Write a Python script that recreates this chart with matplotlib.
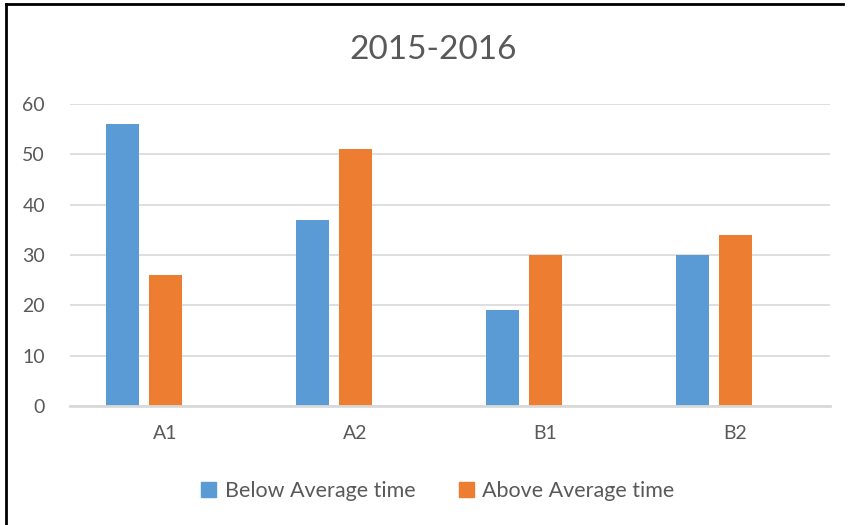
import numpy as np
import matplotlib.pyplot as plt
from matplotlib.patches import Rectangle
from matplotlib.lines import Line2D

# Data
kategori = ['A1', 'A2', 'B1', 'B2']
di_bawah_rata2 = [56, 37, 19, 30]
di_atas_rata2 = [26, 51, 30, 34]
label_seri = ['Below Average time', 'Above Average time']
judul = '2015-2016'
tick_y = [0, 10, 20, 30, 40, 50, 60]

warna_biru = '#5b9bd5'
warna_oranye = '#ed7d31'
warna_teks = '#595959'

plt.rcParams['font.family'] = ['Lato', 'DejaVu Sans']

W, H = 851, 525
fig = plt.figure(figsize=(W / 100, H / 100), dpi=100)

# Area plot (dalam piksel)
kiri, kanan = 70, 830
atas, bawah = 104, 406
ax = fig.add_axes([kiri / W, 1 - bawah / H, (kanan - kiri) / W, (bawah - atas) / H])

x = np.arange(len(kategori))
lebar = 33 / 190
langkah = 42.5 / 190
ax.bar(x - langkah, di_bawah_rata2, width=lebar, color=warna_biru, zorder=3)
ax.bar(x, di_atas_rata2, width=lebar, color=warna_oranye, zorder=3)

ax.set_xlim(-0.5, len(kategori) - 0.5)
ax.set_ylim(0, 60)
ax.set_yticks(tick_y)
ax.set_xticks(x)
ax.set_xticklabels(kategori)
ax.grid(axis='y', color='#d9d9d9', linewidth=1.2, zorder=0)
ax.tick_params(axis='both', length=0, labelsize=14, colors=warna_teks)
ax.tick_params(axis='y', pad=18)
ax.tick_params(axis='x', pad=14)
for s in ['top', 'right', 'left']:
    ax.spines[s].set_visible(False)
ax.spines['bottom'].set_color('#d9d9d9')
ax.spines['bottom'].set_linewidth(2)
ax.spines['bottom'].set_zorder(4)

# Judul
fig.text(433 / W, 1 - 50 / H, judul, ha='center', va='center', fontsize=24, color=warna_teks)

# Legenda
handles = [Rectangle((0, 0), 1, 1, color=warna_biru), Rectangle((0, 0), 1, 1, color=warna_oranye)]
fig.legend(handles, label_seri, loc='center', bbox_to_anchor=(438 / W, 1 - 491 / H), ncol=2,
           frameon=False, fontsize=15.5, labelcolor=warna_teks, handlelength=0.7, handleheight=0.7,
           handletextpad=0.4, columnspacing=2.0)

# Bingkai hitam (kiri dan atas)
fig.add_artist(Line2D([6 / W, 6 / W], [0, 1 - 4 / H], transform=fig.transFigure, color='black', linewidth=2))
fig.add_artist(Line2D([6 / W, 843 / W], [1 - 4 / H, 1 - 4 / H], transform=fig.transFigure, color='black', linewidth=2))

fig.savefig('out.png', dpi=100)
